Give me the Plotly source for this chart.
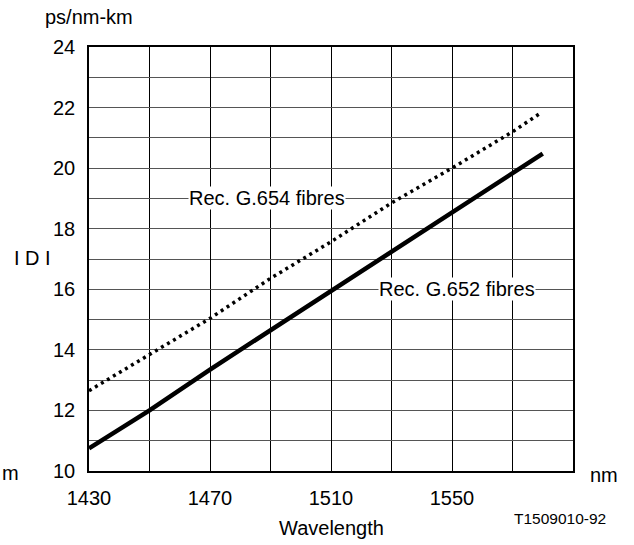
import plotly.graph_objects as go

# wavelength (nm) and |D| (ps/nm-km)
wl_652 = [1430, 1450, 1470, 1490, 1510, 1530, 1550, 1570, 1580]
d_652 = [10.75, 12.0, 13.35, 14.65, 15.95, 17.25, 18.55, 19.85, 20.48]

wl_654 = [1430, 1450, 1470, 1490, 1510, 1530, 1550, 1570, 1579]
d_654 = [12.65, 13.85, 15.04, 16.36, 17.57, 18.85, 20.0, 21.2, 21.8]

x_ticks = [1430, 1470, 1510, 1550]
y_ticks = [10, 12, 14, 16, 18, 20, 22, 24]

FONT = "Liberation Sans, Arial, sans-serif"

fig = go.Figure()

fig.add_trace(go.Scatter(
    x=wl_654, y=d_654, mode="lines",
    line=dict(color="black", width=3.5, dash="3px,4px"),
    showlegend=False,
))
fig.add_trace(go.Scatter(
    x=wl_652, y=d_652, mode="lines",
    line=dict(color="black", width=4.5),
    showlegend=False,
))

# curve labels sit on a white box over the grid
fig.add_annotation(x=1489, y=19, text="Rec. G.654 fibres", showarrow=False,
                   bgcolor="white", borderpad=0)
fig.add_annotation(x=1551.5, y=16, text="Rec. G.652 fibres", showarrow=False,
                   bgcolor="white", borderpad=0)

# axis captions, positioned in paper coords
captions = [
    dict(x=0.0, y=1.071, text="ps/nm-km", xanchor="center"),
    dict(x=-0.16, y=0.502, text="I D I", xanchor="left"),
    dict(x=-0.184, y=-0.005, text="m", xanchor="left"),
    dict(x=1.031, y=-0.009, text="nm", xanchor="left"),
    dict(x=0.5, y=-0.134, text="Wavelength", xanchor="center"),
]
for c in captions:
    fig.add_annotation(xref="paper", yref="paper", showarrow=False,
                       yanchor="middle", **c)
fig.add_annotation(xref="paper", yref="paper", x=1.072, y=-0.111,
                   text="T1509010-92", showarrow=False,
                   xanchor="right", yanchor="middle", font=dict(size=15.5))

fig.update_xaxes(
    range=[1430, 1590], tickvals=x_ticks, ticks="",
    showgrid=True, gridcolor="black", gridwidth=1,
    minor=dict(dtick=20, tick0=1430, showgrid=True, gridcolor="black", gridwidth=1),
    showline=True, linecolor="black", linewidth=1.5, mirror=True,
    zeroline=False, ticklabelstandoff=8,
)
fig.update_yaxes(
    range=[10, 24], tickvals=y_ticks, ticks="",
    showgrid=True, gridcolor="#555", gridwidth=1,
    minor=dict(dtick=1, tick0=10, showgrid=True, gridcolor="#555", gridwidth=1),
    showline=True, linecolor="black", linewidth=1.5, mirror=True,
    zeroline=False, ticklabelstandoff=8,
)

fig.update_layout(
    width=634, height=545,
    margin=dict(l=89, r=61, t=47, b=74),
    plot_bgcolor="white", paper_bgcolor="white",
    font=dict(family=FONT, size=20, color="black"),
)

fig.write_html("out.html", config={"displayModeBar": False},
               post_script="document.body.style.margin='0';")
